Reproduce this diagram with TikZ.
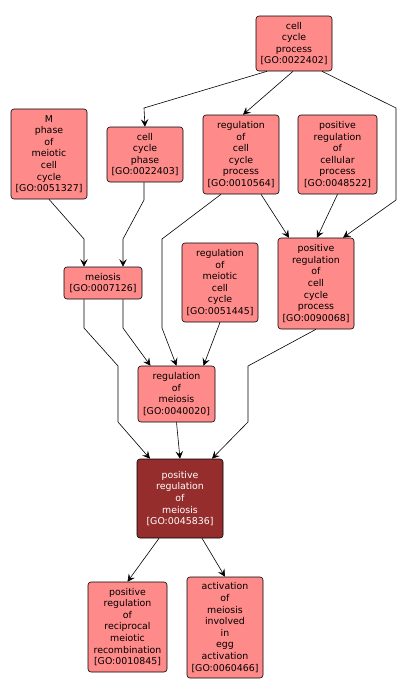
\documentclass[tikz,border=0pt]{standalone}
\usepackage{fontspec}
\setmainfont{DejaVu Sans}
\usetikzlibrary{arrows.meta}
\definecolor{golight}{RGB}{255,138,138}
\definecolor{godark}{RGB}{150,45,45}
\begin{document}
\begin{tikzpicture}[x=1pt, y=-1pt,
        term/.style={draw, rectangle, rounded corners=3pt, align=center, fill=golight, line width=0.6pt,
            inner sep=2pt, minimum width=76pt, font=\fontsize{9.4}{11.6}\selectfont},
        focus/.style={term, fill=godark, text=white},
        arrow/.style={-{Stealth[length=7.5pt, width=7.5pt, inset=3pt]}, line width=0.6pt}
    ]
        \useasboundingbox (0,0) rectangle (406,696);

        \node[term, minimum height=55pt] (ccp) at (294,43.5) {cell\\cycle\\process\\{[GO:0022402]}};
        \node[term, minimum height=90pt] (mphase) at (49,154) {M\\phase\\of\\meiotic\\cell\\cycle\\{[GO:0051327]}};
        \node[term, minimum height=55pt] (cphase) at (145,154.5) {cell\\cycle\\phase\\{[GO:0022403]}};
        \node[term, minimum height=79pt] (rccp) at (241,154.5) {regulation\\of\\cell\\cycle\\process\\{[GO:0010564]}};
        \node[term, minimum height=79pt, minimum width=79pt] (prcp) at (337.5,154.5) {positive\\regulation\\of\\cellular\\process\\{[GO:0048522]}};
        \node[term, minimum height=32pt, minimum width=78pt] (meiosis) at (103,283) {meiosis\\{[GO:0007126]}};
        \node[term, minimum height=79pt] (rmcc) at (220,282.5) {regulation\\of\\meiotic\\cell\\cycle\\{[GO:0051445]}};
        \node[term, minimum height=91pt] (prccp) at (316,283.5) {positive\\regulation\\of\\cell\\cycle\\process\\{[GO:0090068]}};
        \node[term, minimum height=56pt, minimum width=77pt] (rmei) at (176.5,394) {regulation\\of\\meiosis\\{[GO:0040020]}};
        \node[focus, minimum height=79pt, minimum width=86pt] (prmei) at (180,498.5) {positive\\regulation\\of\\meiosis\\{[GO:0045836]}};
        \node[term, minimum height=90pt, minimum width=79pt] (prrec) at (127.5,627) {positive\\regulation\\of\\reciprocal\\meiotic\\recombination\\{[GO:0010845]}};
        \node[term, minimum height=101pt] (actm) at (225,627.5) {activation\\of\\meiosis\\involved\\in\\egg\\activation\\{[GO:0060466]}};

        \draw[arrow] ([xshift=-27]ccp.south) -- (144,108) -- (cphase.north);
        \draw[arrow] ([xshift=-1]ccp.south) -- ([xshift=2]rccp.north);
        \draw[arrow] ([xshift=28]ccp.south) -- (396,108) -- (396,200) -- ([xshift=27]prccp.north);
        \draw[arrow] (mphase.south) -- (84,239) -- ([xshift=-19]meiosis.north);
        \draw[arrow] ([xshift=-1]cphase.south) -- (144,200) -- (123,239) -- ([xshift=20]meiosis.north);
        \draw[arrow] ([xshift=-20]rccp.south) -- (162,239) -- (162,328) -- (rmei.north);
        \draw[arrow] ([xshift=20]rccp.south) -- ([xshift=-27]prccp.north);
        \draw[arrow] (prcp.south) -- ([xshift=1]prccp.north);
        \draw[arrow] ([xshift=-19]meiosis.south) -- (84,328) -- (118,366) -- (118,422) -- ([xshift=-30]prmei.north);
        \draw[arrow] ([xshift=20]meiosis.south) -- (123,328) -- ([xshift=-26]rmei.north);
        \draw[arrow] (rmcc.south) -- ([xshift=27]rmei.north);
        \draw[arrow] (prccp.south) -- (248,366) -- (248,422) -- ([xshift=32]prmei.north);
        \draw[arrow] (rmei.south) -- (prmei.north);
        \draw[arrow] ([xshift=-21]prmei.south) -- (prrec.north);
        \draw[arrow] ([xshift=22]prmei.south) -- (actm.north);
    \end{tikzpicture}
\end{document}
